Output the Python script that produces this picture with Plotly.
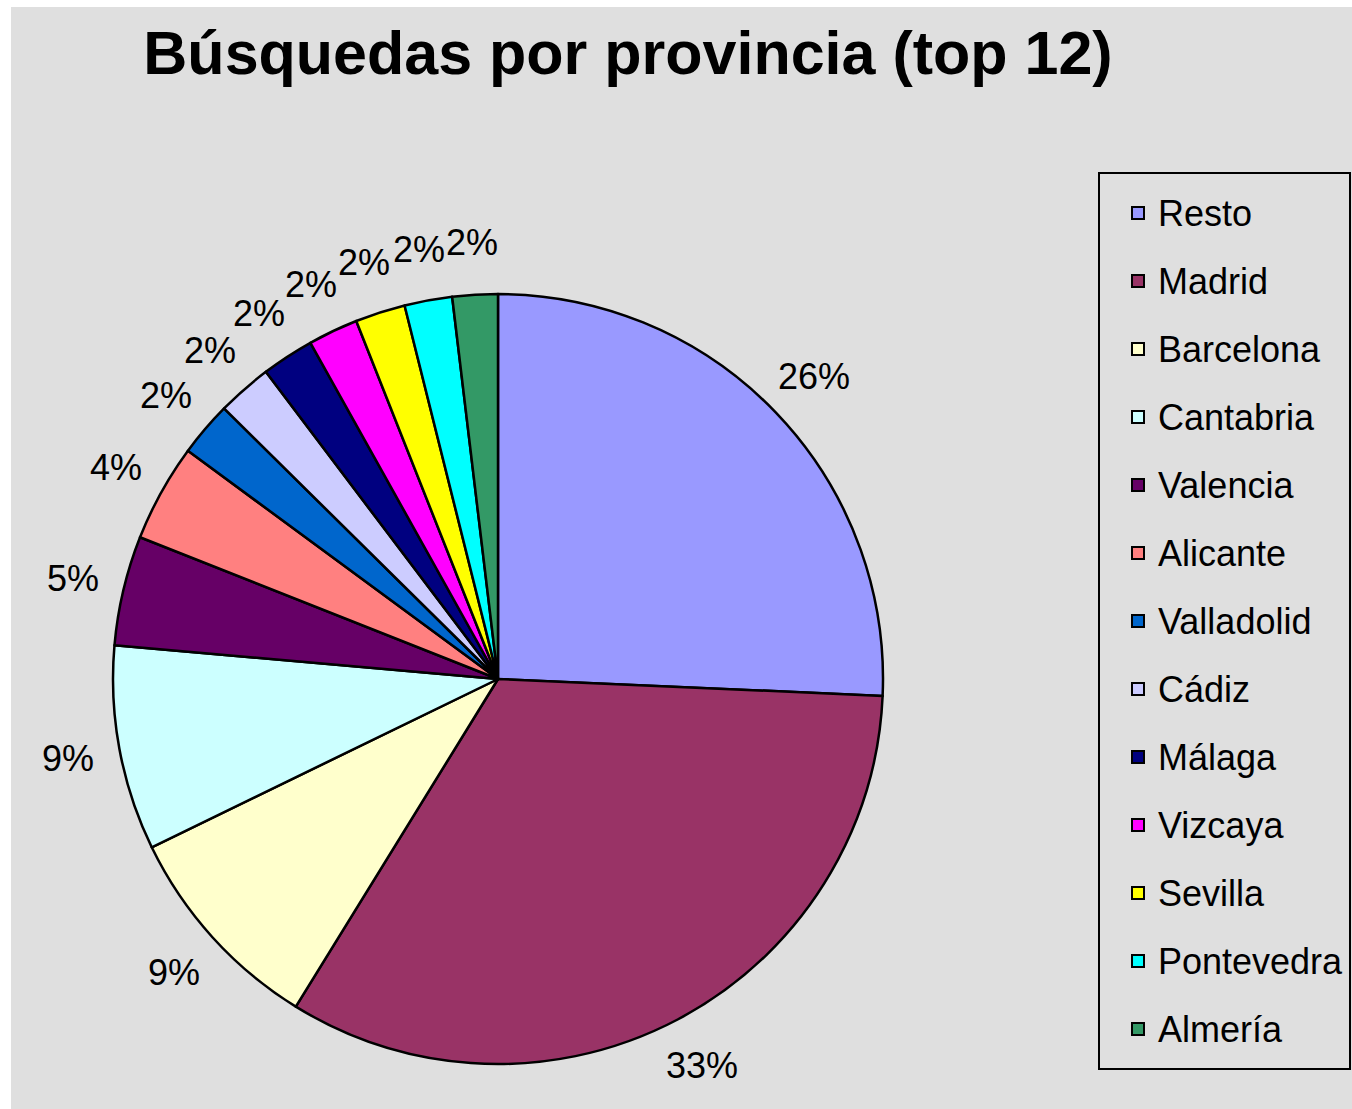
import math
import plotly.graph_objects as go

provinces = ["Resto", "Madrid", "Barcelona", "Cantabria", "Valencia", "Alicante",
             "Valladolid", "Cádiz", "Málaga", "Vizcaya", "Sevilla", "Pontevedra", "Almería"]
shares = [25.7, 33.1, 9.0, 8.6, 4.6, 4.1, 2.3, 2.3, 2.2, 2.1, 2.1, 2.0, 1.9]
colors = ["#9999FF", "#993366", "#FFFFCC", "#CCFFFF", "#660066", "#FF8080",
          "#0066CC", "#CCCCFF", "#000080", "#FF00FF", "#FFFF00", "#00FFFF", "#339966"]

W, H = 1352, 1109
cx, cy, R = 498, 679, 385          # pie centre / radius in pixels (from top)
label_r = 437

dom_x = [(cx - R) / W, (cx + R) / W]
dom_y = [(H - cy - R) / H, (H - cy + R) / H]

legend_labels = [f"<span style='font-size:36px;baseline-shift:7px'>{p}</span>" for p in provinces]

fig = go.Figure(go.Pie(
    labels=legend_labels,
    values=shares,
    marker=dict(colors=colors, line=dict(color="black", width=2.5)),
    sort=False,
    direction="clockwise",
    rotation=0,
    textinfo="none",
    hoverinfo="label+percent",
    domain=dict(x=dom_x, y=dom_y),
))

total = sum(shares)
cum = 0
annotations = []
for v in shares:
    mid = (cum + v / 2) / total * 2 * math.pi
    cum += v
    px = cx + label_r * math.sin(mid)
    py = cy - label_r * math.cos(mid)
    annotations.append(dict(
        x=px / W, y=(H - py) / H, xref="paper", yref="paper",
        text=f"{round(v / total * 100)}%", showarrow=False,
        xanchor="center", yanchor="middle",
        font=dict(family="Liberation Sans, Arial, sans-serif", size=36, color="black"),
    ))

fig.update_layout(
    width=W, height=H,
    margin=dict(l=0, r=0, t=0, b=0, autoexpand=False),
    paper_bgcolor="white",
    shapes=[dict(type="rect", xref="paper", yref="paper",
                 x0=11 / W, x1=1, y0=0, y1=1 - 7 / H,
                 fillcolor="#DFDFDF", line=dict(width=0), layer="below")],
    title=dict(text="Búsquedas por provincia (top 12)",
               x=628 / W, xanchor="center", y=1 - 53 / H, yanchor="middle",
               font=dict(family="Liberation Sans, Arial, sans-serif", size=61,
                         color="black", weight=700)),
    legend=dict(x=1098 / W, xanchor="left", y=1 - 172 / H, yanchor="top",
                bgcolor="#DFDFDF", bordercolor="black", borderwidth=2,
                indentation=18,
                font=dict(family="Liberation Sans, Arial, sans-serif", size=50, color="black"),
                itemsizing="constant"),
    annotations=annotations,
    font=dict(family="Liberation Sans, Arial, sans-serif", color="black"),
)

fig.write_html("out.html", config={"displayModeBar": False},
               post_script="document.body.style.margin='0';")
